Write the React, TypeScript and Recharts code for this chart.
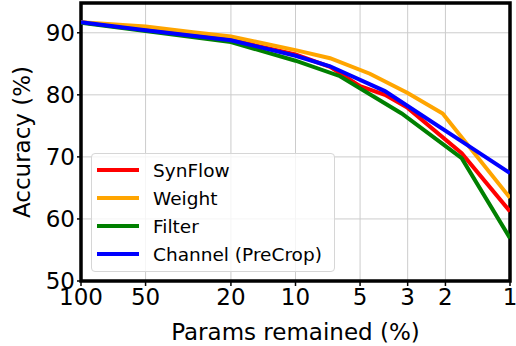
import { LineChart, Line, XAxis, YAxis, CartesianGrid, ReferenceArea } from "recharts"

// x = params remained (%), y = accuracy (%)
const synflowX = [100, 50, 20, 10, 6.9, 5, 3.83, 3.0, 1.68, 1]
const synflowY = [91.7, 90.5, 88.9, 86.5, 84.5, 81.4, 80.0, 77.9, 70.6, 61.2]

const weightX = [100, 50, 30, 20, 10, 6.9, 4.5, 3.0, 2.06, 1]
const weightY = [91.7, 91.0, 90.1, 89.4, 87.2, 85.9, 83.4, 80.3, 77.0, 63.4]

const filterX = [100, 50, 20, 10, 6.2, 3.2, 1.68, 1]
const filterY = [91.6, 90.3, 88.5, 85.5, 83.0, 77.0, 69.8, 56.9]

const channelX = [100, 50, 20, 10, 6.9, 3.83, 3.0, 1.68, 1]
const channelY = [91.7, 90.4, 88.8, 86.3, 84.6, 80.6, 78.2, 72.5, 67.4]

const xTicks = [100, 50, 20, 10, 5, 3, 2, 1]
const xMinorTicks = [90, 80, 70, 60, 40, 30, 9, 8, 7, 6, 4]
const yTicks = [50, 60, 70, 80, 90]

const toPoints = (xs: number[], ys: number[]) => xs.map((x, i) => ({ x, y: ys[i] }))

const series = [
  { name: "SynFlow", color: "#ff0000", data: toPoints(synflowX, synflowY) },
  { name: "Weight", color: "#ffa500", data: toPoints(weightX, weightY) },
  { name: "Filter", color: "#008000", data: toPoints(filterX, filterY) },
  { name: "Channel (PreCrop)", color: "#0000ff", data: toPoints(channelX, channelY) },
]

const font = "'DejaVu Sans', sans-serif"

export default function App() {
  return (
    <div style={{ position: "fixed", left: 0, top: 0, width: 516, height: 346, background: "#fff", fontFamily: font }}>
      <LineChart width={516} height={346} margin={{ top: 3, right: 6, left: 0, bottom: 0 }}>
        {/* minor ticks only, zero height so it sits right on the plot bottom */}
        <XAxis
          xAxisId="minor"
          dataKey="x"
          type="number"
          scale="log"
          domain={[1, 100]}
          reversed
          ticks={xMinorTicks}
          interval={0}
          allowDataOverflow
          height={0}
          tickSize={3}
          tickLine={{ stroke: "#000", strokeWidth: 1 }}
          axisLine={false}
          tickFormatter={() => ""}
        />
        <XAxis
          xAxisId="main"
          dataKey="x"
          type="number"
          scale="log"
          domain={[1, 100]}
          reversed
          ticks={xTicks}
          interval={0}
          allowDataOverflow
          height={65}
          tickSize={5}
          tickMargin={3}
          tickLine={{ stroke: "#000", strokeWidth: 1.5 }}
          axisLine={false}
          tick={{ fill: "#000", fontSize: 23, fontFamily: font }}
          label={{ value: "Params remained (%)", position: "insideBottom", offset: 6, fill: "#000", fontSize: 23, fontFamily: font }}
        />
        <YAxis
          type="number"
          domain={[50, 94.8]}
          ticks={yTicks}
          interval={0}
          allowDataOverflow
          width={81}
          tickSize={4}
          tickMargin={2}
          tickLine={{ stroke: "#000", strokeWidth: 1.5 }}
          axisLine={false}
          tick={{ fill: "#000", fontSize: 23, fontFamily: font }}
          label={{ value: "Accuracy (%)", angle: -90, position: "insideLeft", offset: 22, fill: "#000", fontSize: 23, fontFamily: font, style: { textAnchor: "middle" } }}
        />
        <CartesianGrid xAxisId="main" stroke="#cccccc" strokeWidth={1} horizontal vertical />
        {series.map((s) => (
          <Line
            key={s.name}
            xAxisId="main"
            data={s.data}
            dataKey="y"
            name={s.name}
            stroke={s.color}
            strokeWidth={4}
            dot={false}
            activeDot={false}
            isAnimationActive={false}
          />
        ))}
        <ReferenceArea xAxisId="main" x1={1} x2={100} y1={50} y2={94.8} fill="none" stroke="#000" strokeWidth={3.5} ifOverflow="visible" />
      </LineChart>
      <div
        style={{
          position: "absolute",
          left: 91,
          top: 153,
          width: 244,
          height: 119,
          boxSizing: "border-box",
          border: "1px solid #d6d6d6",
          borderRadius: 4,
          background: "rgba(255,255,255,0.8)",
          padding: "2px 0 0 5px",
        }}
      >
        {series.map((s) => (
          <div key={s.name} style={{ display: "flex", alignItems: "center", height: 28 }}>
            <div style={{ width: 42, height: 4, background: s.color, marginRight: 14 }} />
            <span style={{ fontSize: 18.5, color: "#000", whiteSpace: "nowrap" }}>{s.name}</span>
          </div>
        ))}
      </div>
    </div>
  )
}
